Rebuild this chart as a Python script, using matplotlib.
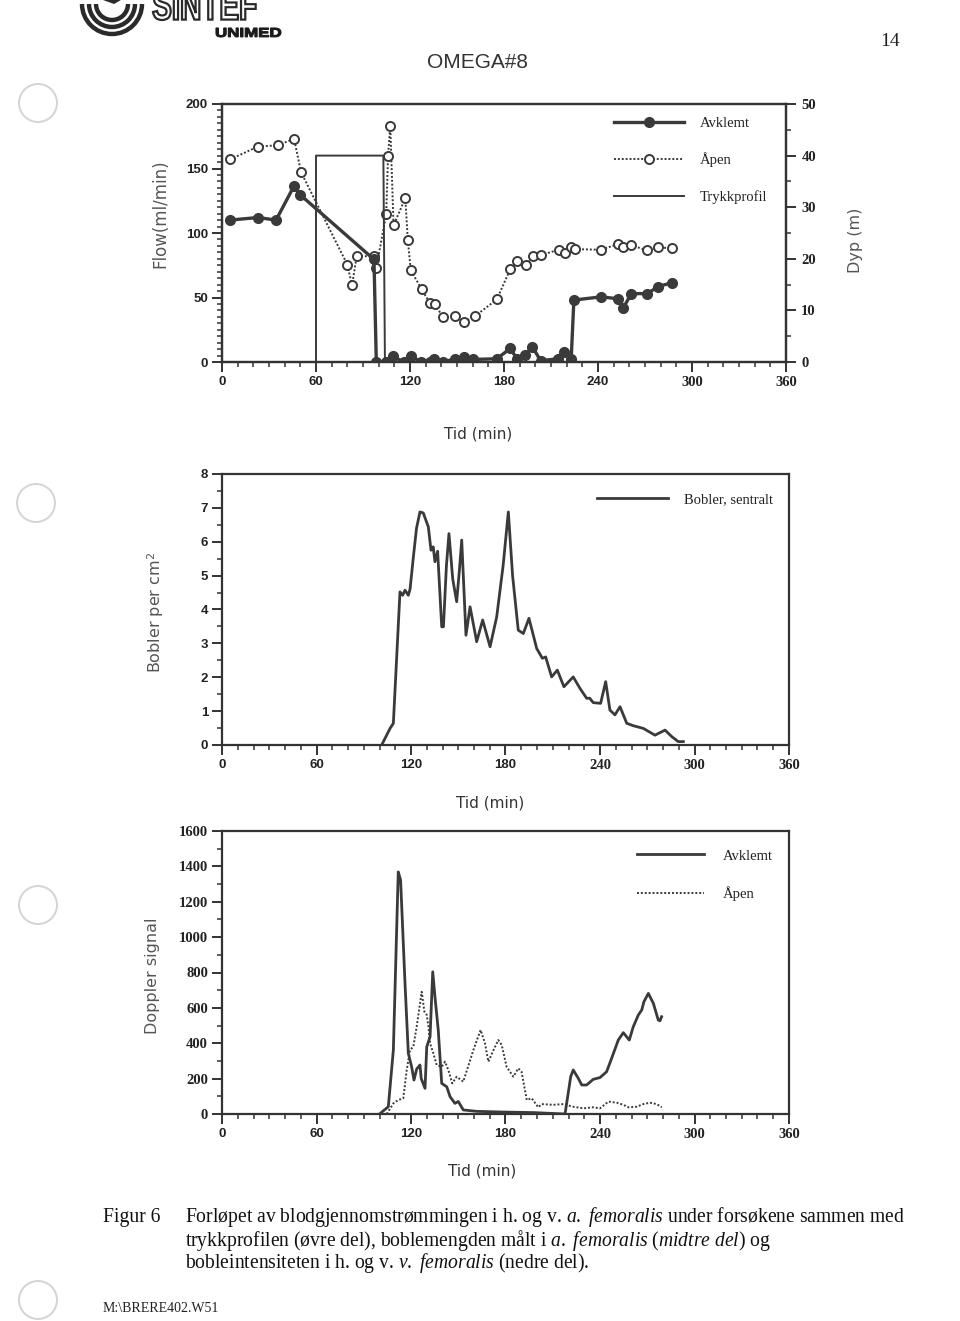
import matplotlib
matplotlib.use('Agg')
import matplotlib.pyplot as plt
from matplotlib.ticker import MultipleLocator
from matplotlib.patches import Circle, Arc, PathPatch, Wedge
from matplotlib.textpath import TextPath
from matplotlib.font_manager import FontProperties
from matplotlib.transforms import Affine2D

plt.rcParams['mathtext.fontset'] = 'custom'
plt.rcParams['mathtext.rm'] = 'Liberation Serif'
plt.rcParams['mathtext.it'] = 'Liberation Serif:italic'
plt.rcParams['mathtext.bf'] = 'Liberation Serif:bold'
plt.rcParams['mathtext.sf'] = 'DejaVu Sans'

# ---------------- data ----------------
# Top panel: flow (ml/min) vs time (min)
flow_t_avklemt = [5, 23, 34.5, 46, 50, 97, 98.5, 104.6, 106.6, 109, 115.9, 117.8, 120.4,
                  127.3, 132.5, 135.5, 140.9, 148.9, 154.3, 160.5, 175.4, 184, 188.3,
                  193.7, 198, 203.4, 214.2, 218.6, 222.9, 224.6, 241.9, 253, 255.9,
                  261.3, 271.4, 278.5, 287.2]
flow_avklemt = [110, 112, 110, 136.5, 129.5, 79.5, 0, 0, 0, 4.5, 0, 0, 4.5,
                0, 0, 2, 0, 2.5, 3.5, 2, 2.5, 10.5, 2.5,
                5.5, 12, 1, 2.5, 8, 2.5, 48, 50.5, 49, 41.5,
                53, 53, 58.5, 61.5]
flow_t_apen = [5, 23, 35.5, 46, 50.5, 80, 83, 86, 97, 98.5, 104.8, 106, 107.4, 109.5,
               117, 118.6, 120.5, 127.4, 132.5, 136, 141, 149, 154.3, 161.4, 175.4,
               184, 188.3, 194.2, 198.5, 203.7, 214.9, 218.8, 222.9, 225, 241.9, 253,
               255.9, 261.3, 271.4, 278.5, 287.2]
flow_apen = [157, 167, 168, 173, 147, 75.5, 59.5, 82, 82, 73, 114.5, 160, 183, 106,
             127, 94.5, 71, 56.5, 46, 45, 34.5, 36, 31, 35.5, 48.5,
             72, 78, 75, 82.5, 83, 87, 84.5, 89.5, 87.5, 87, 91.5,
             89, 90.5, 86.5, 89, 88]
depth_t = [0, 60, 60, 103, 104, 300]
depth_m = [0, 0, 40, 40, 0, 0]

# Middle panel: bubbles per cm2
bubble_t = [101.4, 106.7, 108.8, 113, 114.7, 116.2, 118.3, 119.4, 121.5, 123.5, 125.7, 127.8,
            131, 132.7, 134.1, 135.2, 136.9, 139.5, 140.6, 142.5, 144.1, 146.5, 149, 150.8,
            152.2, 154.9, 157.5, 161.7, 165.5, 170.2, 174.4, 178.5, 181.8, 184.5, 188.1,
            191.3, 194.9, 199.8, 203.4, 205.5, 209.3, 212.9, 217.1, 223, 227.3, 231.5,
            233.5, 235.7, 240.4, 243.6, 246.3, 249.5, 252.7, 257, 261.1, 267.5, 274.9,
            281.3, 285.5, 289.7, 292.9]
bubble_n = [0, 0.49, 0.64, 4.52, 4.42, 4.57, 4.42, 4.6, 5.55, 6.4, 6.88, 6.85,
            6.44, 5.75, 5.85, 5.41, 5.72, 3.49, 3.49, 5.3, 6.24, 4.9, 4.23, 5.2,
            6.05, 3.24, 4.08, 3.05, 3.69, 2.9, 3.78, 5.3, 6.88, 5.0, 3.39,
            3.29, 3.74, 2.85, 2.56, 2.6, 2.01, 2.21, 1.72, 2.01, 1.67, 1.38,
            1.38, 1.25, 1.23, 1.87, 1.03, 0.89, 1.13, 0.64, 0.57, 0.49, 0.29,
            0.44, 0.25, 0.1, 0.1]

# Bottom panel: Doppler signal
dop_t_avklemt = [100, 105.6, 108.8, 111.9, 113.4, 116.2, 118.3, 120.4, 121.9, 123.6, 125.7,
                 126.5, 128.9, 130, 132.1, 133.8, 135.2, 137.3, 139.5, 142.7, 144.8, 147.9,
                 150, 153.2, 161.7, 178.6, 197.6, 217.8, 221.4, 223, 226.2, 228.4, 231.5,
                 235.7, 240, 244.2, 247.4, 251.6, 254.8, 258.6, 261.1, 264.3, 266.5, 267.9,
                 270.7, 273.9, 277, 278.1, 279.1]
dop_avklemt = [0, 41, 362, 1369, 1322, 738, 343, 267, 192, 254, 277,
               200, 145, 380, 437, 804, 663, 475, 173, 154, 98, 60,
               71, 23, 15, 11, 8, 0, 211, 249, 202, 164, 164,
               196, 206, 239, 315, 418, 460, 418, 493, 559, 588, 635,
               682, 625, 531, 527, 550]
dop_t_apen = [104.6, 108.8, 111.9, 115.1, 117.3, 119.4, 121.5, 123.6, 126.8, 128.5, 130,
              131.1, 132.1, 134.2, 136.3, 139.5, 141.6, 143.7, 146.2, 149, 153.2, 159.6,
              164.2, 167, 169.1, 171.9, 175.4, 177.6, 180.7, 185, 188.1, 190.2, 193.5,
              196.6, 200.8, 203, 210.4, 216.7, 223, 229.4, 235.7, 240, 245.3, 250.6,
              254.8, 258, 263.3, 267.5, 271.7, 276, 279.2]
dop_apen = [0, 60, 79, 89, 249, 362, 381, 493, 691, 578, 560,
            493, 399, 343, 277, 267, 296, 249, 173, 211, 183, 362,
            475, 399, 296, 352, 418, 390, 267, 211, 258, 239, 79,
            89, 38, 56, 52, 56, 41, 32, 38, 32, 70, 64,
            52, 38, 41, 56, 64, 56, 38]

x_ticks = [0, 60, 120, 180, 240, 300, 360]

# ---------------- figure ----------------
W, H = 960, 1321
fig = plt.figure(figsize=(W / 100, H / 100), dpi=100)
fig.patch.set_facecolor('white')

INK = '#333333'
LBL = '#555555'
SANS = 'Liberation Sans'
SERIF = 'Liberation Serif'


def rect(l, t, r, b):
    return [l / W, 1 - b / H, (r - l) / W, (b - t) / H]


bg = fig.add_axes([0, 0, 1, 1], zorder=-5)
bg.set_xlim(0, W)
bg.set_ylim(H, 0)
bg.axis('off')


def style(ax, ymaj, ymin_, yfam, serif_from):
    for s in ax.spines.values():
        s.set_color(INK)
        s.set_linewidth(1.6)
    ax.set_xlim(0, 360)
    ax.set_xticks(x_ticks, [str(v) for v in x_ticks], fontweight='bold', fontsize=9.5,
                  fontfamily=SANS, color='#222222')
    for lab, v in zip(ax.get_xticklabels(), x_ticks):
        if v >= serif_from:
            lab.set_fontfamily(SERIF)
            lab.set_fontsize(10.5)
    ax.xaxis.set_minor_locator(MultipleLocator(10))
    ax.yaxis.set_major_locator(MultipleLocator(ymaj))
    ax.yaxis.set_minor_locator(MultipleLocator(ymin_))
    ax.tick_params(which='major', direction='out', length=7, width=1.4, color=INK, pad=3)
    ax.tick_params(which='minor', direction='out', length=3.5, width=1.1, color=INK)
    ax.tick_params(axis='y', labelsize=9.5 if yfam == SANS else 10.5, labelcolor='#222222')
    for lab in ax.get_yticklabels():
        lab.set_fontfamily(yfam)
        lab.set_fontweight('bold')


# ---------- top panel ----------
ax1 = fig.add_axes(rect(222, 104, 786, 362))
ax1.set_ylim(0, 200)
style(ax1, 50, 5, SANS, 300)
h_avk, = ax1.plot(flow_t_avklemt, flow_avklemt, color='#3a3a3a', lw=2.4, marker='o', ms=7,
                  mfc='#3a3a3a', mec='#3a3a3a', label='Avklemt', zorder=4)
h_apen, = ax1.plot(flow_t_apen, flow_apen, color='#3a3a3a', lw=1.4, ls=(0, (1, 1)), marker='o',
                   ms=6.5, mfc='white', mec='#3a3a3a', mew=1.4, label='Åpen', zorder=3)
ax1.set_xlabel('Tid (min)', fontsize=11, color='#333333', va='center')
ax1.xaxis.set_label_coords(0.4547, -0.279)
ax1.set_ylabel('Flow(ml/min)', fontsize=12, color=LBL, va='center')
ax1.yaxis.set_label_coords(-0.110, 0.574)

ax1r = ax1.twinx()
ax1r.set_ylim(0, 50)
ax1r.yaxis.set_major_locator(MultipleLocator(10))
ax1r.yaxis.set_minor_locator(MultipleLocator(5))
ax1r.tick_params(which='major', direction='out', length=7, width=1.4, color=INK, pad=4,
                 labelsize=10.5, labelcolor='#222222')
ax1r.tick_params(which='minor', direction='out', length=3.5, width=1.1, color=INK)
for lab in ax1r.get_yticklabels():
    lab.set_fontfamily(SERIF)
    lab.set_fontweight('bold')
for s in ax1r.spines.values():
    s.set_color(INK)
    s.set_linewidth(1.6)
h_tr, = ax1r.plot(depth_t, depth_m, color='#3a3a3a', lw=1.4, label='Trykkprofil')
ax1r.set_ylabel('Dyp (m)', fontsize=11.5, color=LBL, va='center', rotation=90)
ax1r.yaxis.set_label_coords(1.124, 0.473)
leg = ax1r.legend(handles=[h_avk, h_apen, h_tr], loc='upper left', bbox_to_anchor=(0.6945, 0.95),
                  frameon=False, prop={'family': SERIF, 'size': 10.5}, handlelength=4.8,
                  handletextpad=1.1, labelspacing=1.55, borderpad=0, borderaxespad=0,
                  numpoints=1)
for t in leg.get_texts():
    t.set_color('#222222')

# ---------- middle panel ----------
ax2 = fig.add_axes(rect(222, 474, 789, 745))
ax2.set_ylim(0, 8)
style(ax2, 1, 0.5, SANS, 240)
ax2.plot(bubble_t, bubble_n, color='#3a3a3a', lw=2.0, label='Bobler, sentralt')
ax2.set_xlabel('Tid (min)', fontsize=11, color='#333333', va='center')
ax2.xaxis.set_label_coords(0.4727, -0.214)
ax2.set_ylabel(r'Bobler per cm$^\mathsf{2}$', fontsize=11.5, color=LBL, va='center')
ax2.yaxis.set_label_coords(-0.118, 0.49)
leg2 = ax2.legend(loc='upper left', bbox_to_anchor=(0.661, 0.93), frameon=False,
                  prop={'family': SERIF, 'size': 10.5}, handlelength=4.9, handletextpad=1.1,
                  borderpad=0, borderaxespad=0)
for t in leg2.get_texts():
    t.set_color('#222222')

# ---------- bottom panel ----------
ax3 = fig.add_axes(rect(222, 831, 789, 1114))
ax3.set_ylim(0, 1600)
style(ax3, 200, 100, SERIF, 240)
ax3.plot(dop_t_avklemt, dop_avklemt, color='#3a3a3a', lw=2.0, label='Avklemt', zorder=4)
ax3.plot(dop_t_apen, dop_apen, color='#3a3a3a', lw=1.4, ls=(0, (1, 1)), label='Åpen', zorder=3)
ax3.set_xlabel('Tid (min)', fontsize=11, color='#333333', va='center')
ax3.xaxis.set_label_coords(0.4586, -0.2007)
ax3.set_ylabel('Doppler signal', fontsize=11.5, color=LBL, va='center')
ax3.yaxis.set_label_coords(-0.123, 0.489)
leg3 = ax3.legend(loc='upper left', bbox_to_anchor=(0.732, 0.935), frameon=False,
                  prop={'family': SERIF, 'size': 10.5}, handlelength=4.6, handletextpad=1.3,
                  labelspacing=1.65, borderpad=0, borderaxespad=0)
for t in leg3.get_texts():
    t.set_color('#222222')

# ---------------- page decorations ----------------
bg.text(478, 63, 'OMEGA#8', fontsize=15, family=SANS, color='#333333', ha='center', va='center')
bg.text(890, 42, '14', fontsize=14, family=SERIF, color='#222222', ha='center', va='center')

# hole punches
for (cx, cy) in [(38, 103), (36, 503), (38, 905), (38, 1300)]:
    bg.add_patch(Circle((cx, cy), 19, fill=False, ec='#d4d4d4', lw=1.4))

# logo rings
for r in (30, 23, 16):
    bg.add_patch(Arc((112, 4), 2 * r, 2 * r, theta1=0, theta2=180, ec='#2a2a2a', lw=3.2))
bg.add_patch(Wedge((114, 4), 13, 200, 330, fc='#2a2a2a', ec='none'))

# SINTEF outlined lettering scaled into the logo box
tp = TextPath((0, 0), 'SINTEF', size=10, prop=FontProperties(family=SANS, weight='bold'))
bb = tp.get_extents()
tr = Affine2D().translate(-bb.x0, -bb.y0).scale((256 - 153) / bb.width, -30 / bb.height).translate(153, 20)
bg.add_patch(PathPatch(tr.transform_path(tp), fc='white', ec='#2a2a2a', lw=1.6))
tp2 = TextPath((0, 0), 'UNIMED', size=10, prop=FontProperties(family=SANS, weight='heavy'))
bb2 = tp2.get_extents()
tr2 = Affine2D().translate(-bb2.x0, -bb2.y0).scale((281 - 216) / bb2.width, -9 / bb2.height).translate(216, 37)
bg.add_patch(PathPatch(tr2.transform_path(tp2), fc='#1a1a1a', ec='#1a1a1a', lw=0.8))

# caption (italic parts via mathtext, one text per line so baselines match)
CAP = dict(family=SERIF, fontsize=14.1, color='#111111', va='baseline', ha='left')
bg.text(103, 1222, 'Figur 6', **CAP)
bg.text(185, 1222, 'Forløpet av blodgjennomstrømmingen i h. og v. '
        r'$\mathit{a.\ femoralis}$ under forsøkene sammen med', **CAP)
bg.text(185, 1246, 'trykkprofilen (øvre del), boblemengden målt i '
        r'$\mathit{a.\ femoralis\ (midtre\ del)}$ og', **CAP)
bg.text(185, 1268, 'bobleintensiteten i h. og v. '
        r'$\mathit{v.\ femoralis}$ (nedre del).', **CAP)
bg.text(103, 1312, 'M:\\BRERE402.W51', family=SERIF, fontsize=10, color='#222222',
        ha='left', va='baseline')

fig.savefig('out.png', dpi=100, facecolor='white')
